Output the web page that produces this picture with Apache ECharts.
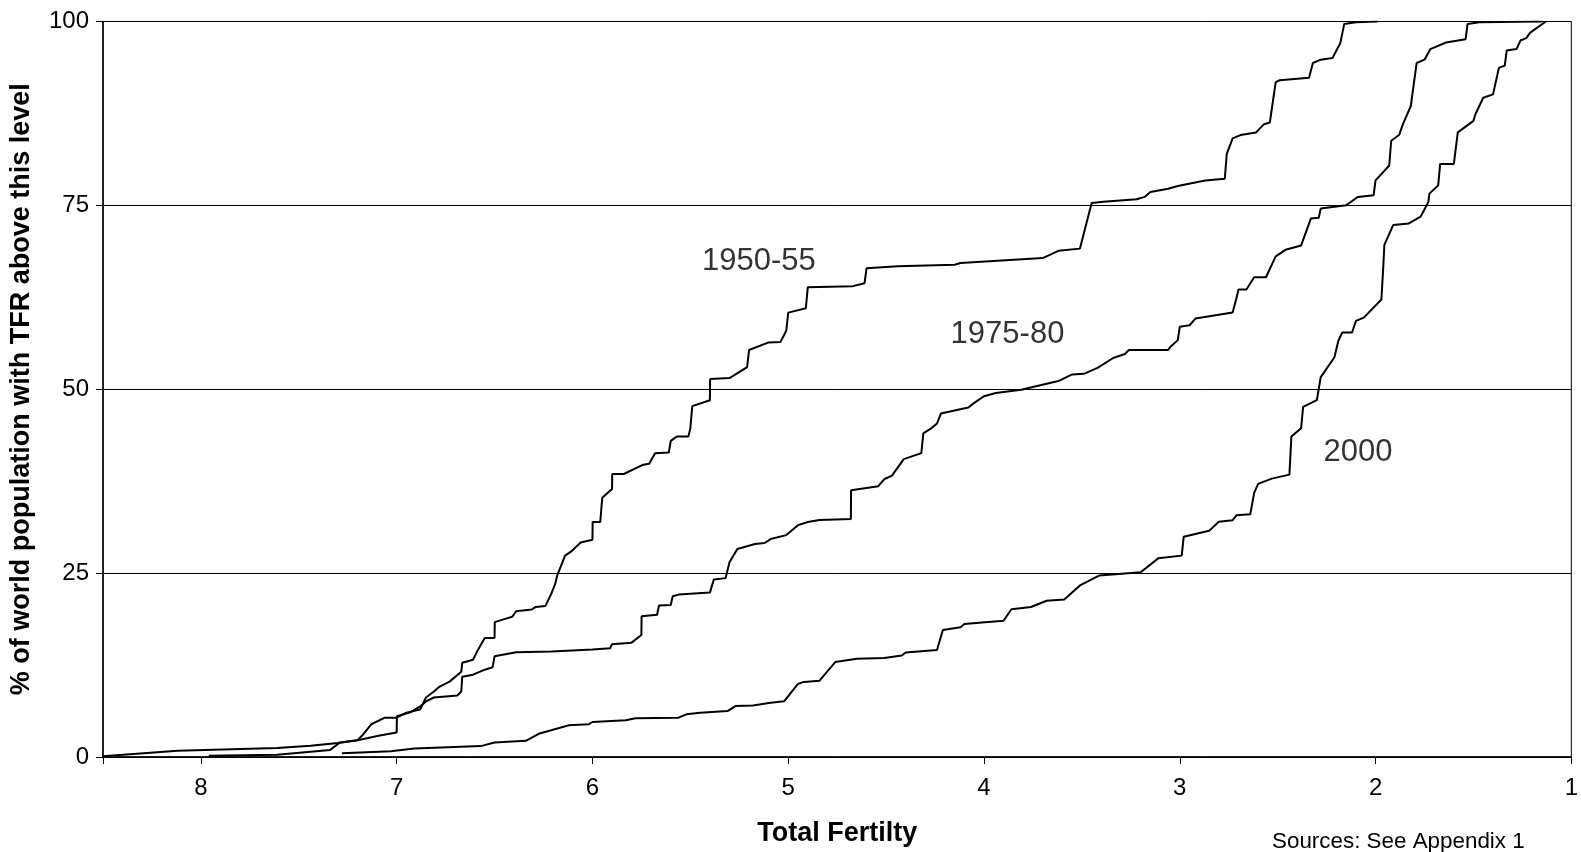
<!DOCTYPE html>
<html>
<head>
<meta charset="utf-8">
<script src="https://cdn.jsdelivr.net/npm/echarts@6/dist/echarts.min.js"></script>
<style>
html,body{margin:0;padding:0;background:#fff;}
#chart{width:1581px;height:852px;}
</style>
</head>
<body>
<div id="chart"></div>
<script>
// Total fertility (x) vs % of world population with TFR above this level (y)
const tfr1950 = [8.50,8.12,7.61,7.44,7.30,7.20,7.17,7.13,7.06,7.00,6.95,6.88,6.85,6.81,6.78,6.73,6.67,6.665,6.61,6.59,6.55,6.50,6.499,6.45,6.41,6.39,6.31,6.29,6.24,6.21,6.19,6.18,6.16,6.14,6.11,6.06,6.00,5.999,5.96,5.95,5.90,5.899,5.84,5.74,5.71,5.68,5.61,5.60,5.57,5.51,5.50,5.49,5.40,5.399,5.30,5.21,5.20,5.10,5.04,5.01,5.00,4.91,4.90,4.67,4.61,4.60,4.44,4.15,4.12,3.70,3.62,3.51,3.45,3.39,3.22,3.18,3.15,3.06,3.01,2.87,2.77,2.76,2.73,2.69,2.61,2.57,2.54,2.51,2.49,2.34,2.32,2.28,2.22,2.18,2.16,2.10,1.99];
const pct1950 = [0.1,0.85,1.21,1.52,1.89,2.29,3.10,4.45,5.35,5.35,6.03,6.47,8.09,8.90,9.58,10.25,11.60,12.81,13.22,14.30,16.18,16.18,18.34,18.75,19.06,19.82,20.05,20.40,20.54,22.21,23.56,24.68,26.03,27.38,27.92,29.17,29.53,31.96,31.96,35.24,36.45,38.48,38.48,39.74,39.88,41.31,41.40,42.98,43.56,43.56,44.68,47.70,48.51,51.38,51.52,53.00,55.33,56.37,56.41,57.95,60.42,61.00,63.88,64.02,64.42,66.44,66.71,66.93,67.16,67.83,68.82,69.12,75.32,75.48,75.83,76.15,76.83,77.27,77.64,78.39,78.62,82.00,84.11,84.56,84.92,86.04,86.27,91.75,92.01,92.34,94.36,94.81,95.04,97.06,99.66,99.9,100];

const tfr1975 = [7.96,7.61,7.34,7.29,7.20,7.08,7.00,6.999,6.93,6.88,6.85,6.81,6.69,6.67,6.665,6.61,6.55,6.51,6.50,6.39,6.21,6.20,6.00,5.91,5.90,5.80,5.75,5.749,5.67,5.66,5.60,5.59,5.56,5.40,5.38,5.32,5.30,5.26,5.17,5.12,5.09,5.01,4.95,4.90,4.84,4.68,4.679,4.54,4.51,4.47,4.41,4.32,4.31,4.27,4.24,4.22,4.08,4.05,4.00,3.94,3.81,3.62,3.55,3.49,3.42,3.34,3.28,3.26,3.06,3.05,3.01,3.00,2.95,2.92,2.73,2.71,2.70,2.66,2.62,2.56,2.51,2.46,2.38,2.33,2.29,2.28,2.15,2.09,2.01,2.00,1.93,1.92,1.88,1.86,1.82,1.79,1.75,1.72,1.64,1.54,1.53,1.47,1.15];
const pct1975 = [0.18,0.31,0.94,1.98,2.29,2.97,3.33,5.53,6.07,6.88,7.55,8.09,8.36,8.90,10.92,11.19,11.87,12.20,13.69,14.23,14.36,14.59,14.63,14.79,15.33,15.55,16.59,19.15,19.35,20.59,20.67,21.85,22.08,22.35,24.14,24.32,26.47,28.28,28.95,29.09,29.63,30.17,31.52,31.96,32.23,32.37,36.28,36.82,37.76,38.26,40.50,41.31,44.01,44.68,45.35,46.70,47.51,48.14,49.05,49.49,49.94,51.11,52.01,52.10,52.91,54.25,54.79,55.33,55.33,55.70,56.68,58.49,58.70,59.61,60.42,62.44,63.56,63.56,65.23,65.23,68.06,68.96,69.55,73.23,73.32,74.58,75.02,76.15,76.37,78.39,80.42,83.79,84.56,86.04,88.51,94.36,94.81,96.25,97.14,97.60,99.66,99.9,100];

const tfr2000 = [7.28,7.03,6.91,6.57,6.50,6.34,6.27,6.12,6.02,6.00,5.83,5.78,5.56,5.52,5.45,5.31,5.27,5.18,5.17,5.09,5.08,5.02,5.00,4.95,4.92,4.84,4.76,4.65,4.51,4.42,4.40,4.24,4.21,4.12,4.10,4.01,3.90,3.86,3.76,3.68,3.59,3.51,3.41,3.20,3.11,2.99,2.98,2.85,2.80,2.73,2.71,2.64,2.62,2.60,2.53,2.44,2.43,2.38,2.37,2.30,2.28,2.21,2.19,2.17,2.12,2.10,2.06,1.97,1.96,1.955,1.91,1.83,1.77,1.73,1.725,1.68,1.67,1.60,1.58,1.50,1.49,1.45,1.40,1.37,1.34,1.33,1.28,1.26,1.23,1.21,1.13];
const pct2000 = [0.50,0.77,1.17,1.48,1.98,2.20,3.20,4.32,4.45,4.76,4.99,5.26,5.35,5.80,6.03,6.24,6.92,7.01,7.28,7.38,7.59,7.59,8.27,9.94,10.21,10.38,12.91,13.35,13.45,13.80,14.20,14.56,17.26,17.63,18.07,18.30,18.52,20.09,20.40,21.24,21.42,23.33,24.68,25.12,27.01,27.38,29.94,30.75,32.00,32.19,32.87,33.00,35.91,37.13,37.85,38.39,43.56,44.71,47.61,48.51,51.65,54.35,56.60,57.72,57.72,59.30,59.74,62.21,66.93,69.63,72.32,72.55,73.46,75.48,76.60,77.72,80.64,80.64,84.92,86.49,87.39,89.64,90.09,93.69,94.00,96.06,96.25,97.41,97.73,98.49,100];

const seriesNames = ['1950-55', '1975-80', '2000'];
const xTicks = [8, 7, 6, 5, 4, 3, 2, 1];
const yTicks = [0, 25, 50, 75, 100];
// label anchor points in data units (TFR, %)
const labelTfr = [5.15, 3.88, 2.09];
const labelPct = [67.4, 57.5, 41.4];

const FONT = '"Liberation Sans", Arial, Helvetica, sans-serif';
const zip = (a, b) => a.map((v, i) => [v, b[i]]);

const chart = echarts.init(document.getElementById('chart'), null, {renderer: 'canvas'});

const lineSeries = [[tfr1950, pct1950], [tfr1975, pct1975], [tfr2000, pct2000]].map((d, i) => ({
  name: seriesNames[i],
  type: 'line',
  data: zip(d[0], d[1]),
  showSymbol: false,
  symbol: 'none',
  smooth: false,
  lineStyle: {color: '#000', width: 2},
  z: 3,
  animation: false
}));

const labelSeries = {
  type: 'scatter',
  symbolSize: 0,
  silent: true,
  animation: false,
  data: seriesNames.map((n, i) => ({value: [labelTfr[i], labelPct[i]], name: n})),
  label: {
    show: true,
    position: 'inside',
    formatter: p => p.name,
    color: '#000',
    fontFamily: FONT,
    fontSize: 31
  }
};

chart.setOption({
  backgroundColor: '#fff',
  animation: false,
  grid: {left: 101.5, right: 5, top: 21.5, bottom: 89, show: true, borderColor: '#000', borderWidth: 1, backgroundColor: 'transparent'},
  xAxis: {
    type: 'value',
    inverse: true,
    min: 1,
    max: 8.5,
    interval: 1,
    name: 'Total Fertilty',
    nameLocation: 'middle',
    nameGap: 63,
    nameTextStyle: {fontFamily: FONT, fontWeight: 'bold', fontSize: 27, color: '#000'},
    axisLine: {show: true, onZero: false, lineStyle: {color: '#000', width: 1.5}},
    axisTick: {show: true, length: 7, lineStyle: {color: '#000'}},
    axisLabel: {
      color: '#000', fontFamily: FONT, fontSize: 24, margin: 19,
      formatter: v => (xTicks.indexOf(v) >= 0 ? String(v) : '')
    },
    splitLine: {show: false}
  },
  yAxis: {
    type: 'value',
    min: 0,
    max: 100,
    interval: 25,
    name: '% of world population with TFR above this level',
    nameLocation: 'middle',
    nameGap: 68,
    nameTextStyle: {fontFamily: FONT, fontWeight: 'bold', fontSize: 27, color: '#000'},
    axisLine: {show: true, lineStyle: {color: '#000', width: 1.5}},
    axisTick: {show: true, length: 7, lineStyle: {color: '#000'}},
    axisLabel: {
      color: '#000', fontFamily: FONT, fontSize: 24, margin: 14,
      formatter: v => (yTicks.indexOf(v) >= 0 ? String(v) : '')
    },
    splitLine: {show: true, lineStyle: {color: '#000', width: 1}}
  },
  graphic: [{
    type: 'text',
    left: 1272,
    top: 831,
    style: {text: 'Sources: See Appendix 1', font: '22.4px ' + FONT, fill: '#000'}
  }],
  series: lineSeries.concat([labelSeries])
});
</script>
</body>
</html>
